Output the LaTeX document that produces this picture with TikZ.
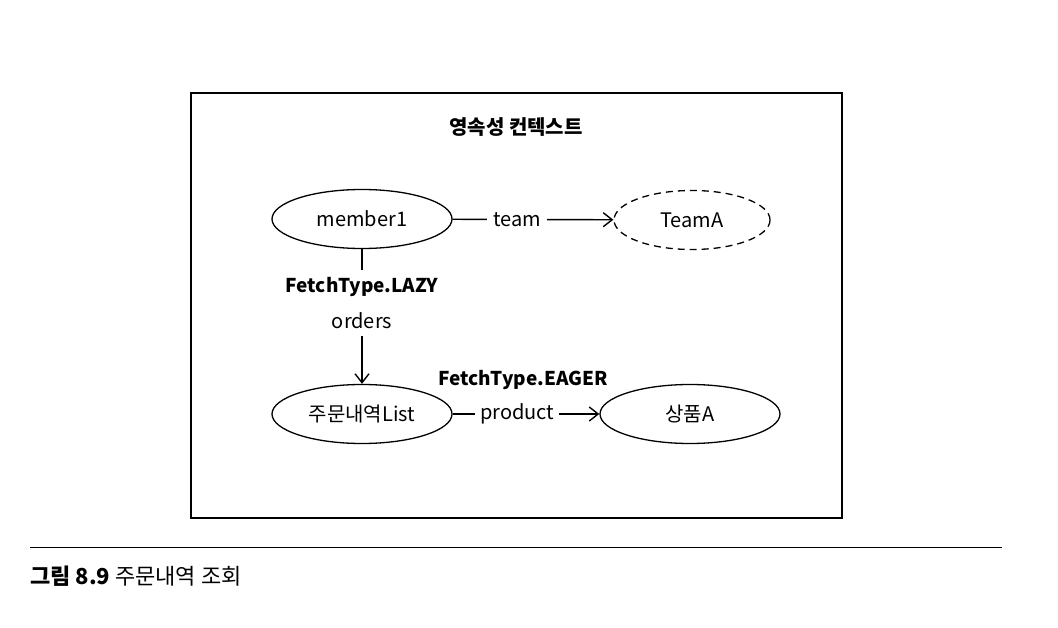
\documentclass[tikz,border=0pt]{standalone}
\usepackage{fontspec}
\setmainfont{Noto Sans CJK KR}
\usetikzlibrary{shapes.geometric,arrows.meta}
\begin{document}
\begin{tikzpicture}[x=1pt,y=-1pt,
  ent/.style={ellipse,draw,line width=1.3pt,minimum width=180pt,minimum height=59pt,inner sep=0pt,font=\fontsize{20}{22}\selectfont},
  lbl/.style={fill=white,inner sep=6pt,font=\fontsize{20}{22}\selectfont},
  arr/.style={line width=1.4pt,-{Straight Barb[length=9pt,width=14pt,line width=1.4pt]}}]
\useasboundingbox (0,0) rectangle (1058,628);
\node[draw,line width=1.8pt,minimum width=651pt,minimum height=425pt,inner sep=0pt] (ctx) at (516.5,305.5) {};
\node[font=\fontsize{20}{22}\selectfont\bfseries] (title) at (516,127) {영속성 컨텍스트};
\node[ent] (m1) at (362,219) {member1};
\node[ent,dash pattern=on 7pt off 5pt,minimum width=156pt] (ta) at (692,220) {TeamA};
\node[ent] (ol) at (362,414) {주문내역List};
\node[ent] (pa) at (690,414) {상품A};
\draw[arr] (m1) -- node[lbl,pos=0.4] (tl) {team} (ta);
\draw[arr] (m1) -- node[lbl,pos=0.40,align=center,inner xsep=3pt,inner ysep=7pt,font=\fontsize{20}{36}\selectfont] (lazy) {{\fontsize{19}{36}\selectfont\bfseries FetchType.LAZY}\\orders} (ol);
\draw[arr] (ol) -- node[lbl,pos=0.44,inner sep=5pt] (pl) {product} (pa);
\node[font=\fontsize{19}{22}\selectfont\bfseries] (eager) at (523,380) {FetchType.EAGER};
\draw[line width=1pt] (30,547) coordinate (r1) -- (1002,547) coordinate (r2);
\node[anchor=west,inner sep=0pt,font=\fontsize{22}{24}\selectfont] (cap) at (30,576) {\textbf{그림 8.9} 주문내역 조회};
\end{tikzpicture}
\end{document}
